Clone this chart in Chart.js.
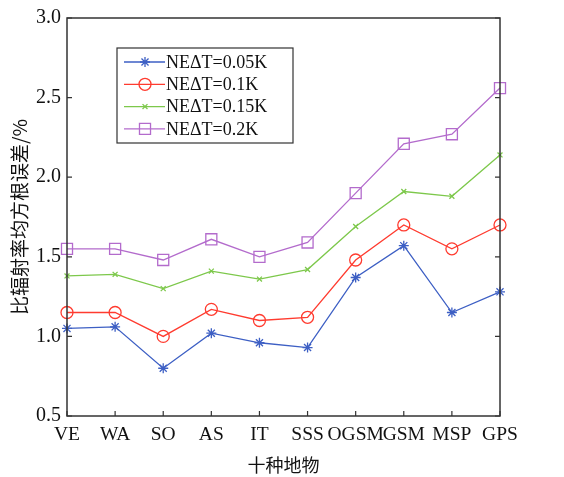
<!DOCTYPE html>
<html>
<head>
<meta charset="utf-8">
<script src="https://cdn.jsdelivr.net/npm/chart.js@4.4.1/dist/chart.umd.min.js"></script>
<style>
  html, body { margin: 0; padding: 0; background: #fff; }
  #wrap { width: 564px; height: 477px; }
</style>
</head>
<body>
<div id="wrap"><canvas id="chart" width="564" height="477"></canvas></div>
<script>
// categorias (eixo x)
const categorias = ["VE", "WA", "SO", "AS", "IT", "SSS", "OGSM", "GSM", "MSP", "GPS"];
const yTicks = [0.5, 1.0, 1.5, 2.0, 2.5, 3.0];

// series
const ne005 = [1.05, 1.06, 0.80, 1.02, 0.96, 0.93, 1.37, 1.57, 1.15, 1.28];
const ne01  = [1.15, 1.15, 1.00, 1.17, 1.10, 1.12, 1.48, 1.70, 1.55, 1.70];
const ne015 = [1.38, 1.39, 1.30, 1.41, 1.36, 1.42, 1.69, 1.91, 1.88, 2.14];
const ne02  = [1.55, 1.55, 1.48, 1.61, 1.50, 1.59, 1.90, 2.21, 2.27, 2.56];

const nomes = ["NE\u0394T=0.05K", "NE\u0394T=0.1K", "NE\u0394T=0.15K", "NE\u0394T=0.2K"];
const cores = ["#3d5fc4", "#ff3b2f", "#7dc84b", "#b36bcc"];
const marcas = ["star", "circle", "crossRot", "rect"];
const raios = [5, 6, 3.5, 7.8];

const serif = "'Liberation Serif', 'DejaVu Serif', serif";

const datasets = [ne005, ne01, ne015, ne02].map((d, i) => ({
  label: nomes[i],
  data: d,
  borderColor: cores[i],
  backgroundColor: "rgba(0,0,0,0)",
  pointBorderColor: cores[i],
  pointBackgroundColor: "rgba(0,0,0,0)",
  pointStyle: marcas[i],
  pointRadius: raios[i],
  pointBorderWidth: 1.3,
  borderWidth: 1.3,
  tension: 0,
  fill: false
}));

// moldura, ticks para dentro e legenda
const moldura = {
  id: "moldura",
  afterDatasetsDraw(chart) {
    const ctx = chart.ctx;
    const a = chart.chartArea;
    const x = chart.scales.x, y = chart.scales.y;
    ctx.save();
    ctx.strokeStyle = "#333";
    ctx.lineWidth = 1.5;
    ctx.strokeRect(a.left, a.top, a.right - a.left, a.bottom - a.top);
    ctx.lineWidth = 1.2;
    ctx.beginPath();
    categorias.forEach((c, i) => {
      const px = x.getPixelForValue(i);
      ctx.moveTo(px, a.bottom);
      ctx.lineTo(px, a.bottom - 5);
    });
    yTicks.forEach(v => {
      const py = y.getPixelForValue(v);
      ctx.moveTo(a.left, py);
      ctx.lineTo(a.left + 5, py);
      ctx.moveTo(a.right, py);
      ctx.lineTo(a.right - 5, py);
    });
    ctx.stroke();

    // legenda
    const bx = 117, by = 48, bw = 176, bh = 95;
    ctx.fillStyle = "#fff";
    ctx.fillRect(bx, by, bw, bh);
    ctx.strokeStyle = "#333";
    ctx.lineWidth = 1.2;
    ctx.strokeRect(bx, by, bw, bh);
    ctx.font = "18px " + serif;
    ctx.textBaseline = "middle";
    ctx.textAlign = "left";
    nomes.forEach((n, i) => {
      const ly = 62 + i * 22.3;
      ctx.strokeStyle = cores[i];
      ctx.lineWidth = 1.3;
      ctx.beginPath();
      ctx.moveTo(124, ly);
      ctx.lineTo(165, ly);
      ctx.stroke();
      ctx.fillStyle = "rgba(0,0,0,0)";
      ctx.strokeStyle = cores[i];
      Chart.helpers.drawPoint(ctx, { pointStyle: marcas[i], radius: raios[i], rotation: 0, borderWidth: 1.3 }, 145, ly);
      ctx.fillStyle = "#111";
      ctx.fillText(n, 166, ly + 1);
    });
    ctx.restore();
  }
};

const ctx = document.getElementById("chart").getContext("2d");

new Chart(ctx, {
  type: "line",
  data: { labels: categorias, datasets: datasets },
  options: {
    responsive: false,
    animation: false,
    layout: { padding: { top: 18, right: 64, left: 0, bottom: 0 } },
    plugins: { legend: { display: false }, tooltip: { enabled: false } },
    scales: {
      x: {
        offset: false,
        grid: { display: false, drawTicks: false },
        border: { display: false },
        ticks: { color: "#111", font: { family: serif, size: 19.5 }, padding: 7, maxRotation: 0, autoSkip: false },
        title: { display: true, text: "十种地物", color: "#111", font: { family: "'Noto Sans CJK SC'", size: 18 }, padding: { top: 4, bottom: 1 } },
        afterFit(s) { s.height = 61; }
      },
      y: {
        min: 0.5,
        max: 3.0,
        grid: { display: false, drawTicks: false },
        border: { display: false },
        afterBuildTicks(s) { s.ticks = yTicks.map(v => ({ value: v })); },
        ticks: { color: "#111", font: { family: serif, size: 20 }, padding: 6, callback: v => v.toFixed(1) },
        title: { display: true, text: "比辐射率均方根误差/%", color: "#111", font: { family: "'Noto Sans CJK SC'", size: 19 }, padding: { top: 8, bottom: 0 } },
        afterFit(s) { s.width = 67; }
      }
    }
  },
  plugins: [moldura]
});
</script>
</body>
</html>
